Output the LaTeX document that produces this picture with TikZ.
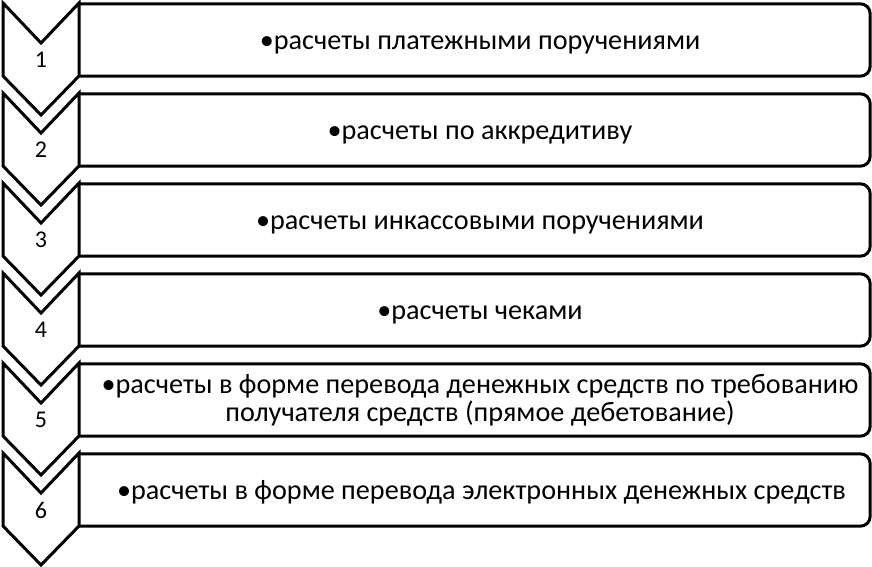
\documentclass[tikz,border=0pt]{standalone}
\usepackage{fontspec}
\setmainfont{Carlito}
\begin{document}
\begin{tikzpicture}[x=1pt,y=-1pt,
  outline/.style={draw=black,line width=3pt,line join=miter},
  itemtext/.style={font=\fontsize{28.2}{27.5}\selectfont,align=center,inner sep=0pt,anchor=base},
  numtext/.style={font=\fontsize{24}{27}\selectfont,inner sep=0pt},
  slot/.style={inner sep=0pt,minimum width=791pt,minimum height=72pt}]
\useasboundingbox (0,0) rectangle (872,566);
\fill[white] (0,0) rectangle (872,566);
\foreach \k/\txt in {1/{•расчеты платежными поручениями},
                     2/{•расчеты по аккредитиву},
                     3/{•расчеты инкассовыми поручениями},
                     4/{•расчеты чеками},
                     5/{•расчеты в форме перевода денежных средств по требованию\\получателя средств (прямое дебетование)},
                     6/{•расчеты в форме перевода электронных денежных средств}}{
  \pgfmathsetmacro{\ctop}{3+90*(\k-1)}
  \pgfmathsetmacro{\cnotch}{43+90*(\k-1)}
  \pgfmathsetmacro{\cside}{76+90*(\k-1)}
  \pgfmathsetmacro{\ctip}{115+90*(\k-1)}
  \pgfmathsetmacro{\cnum}{60+90*(\k-1)}
  \pgfmathsetmacro{\cmid}{40+90*(\k-1)}
  \pgfmathsetmacro{\cbase}{\k==5 ? 421 : 49+90*(\k-1)}
  \pgfmathsetmacro{\cx}{\k==6 ? 481.5 : 480}
  % chevron
  \draw[outline] (3,\ctop) -- (41,\cnotch) -- (79,\ctop) -- (79,\cside) -- (41,\ctip) -- (3,\cside) -- cycle;
  \node[numtext] (n\k) at (41,\cnum) {\k};
  % box
  \node[slot] (b\k) at (474.5,\cmid) {};
  \draw[outline,rounded corners=10pt] (b\k.north west) -- (b\k.north east) -- (b\k.south east) -- (b\k.south west);
  \node[itemtext] (t\k) at (\cx,\cbase) {\txt};
}
\end{tikzpicture}
\end{document}
